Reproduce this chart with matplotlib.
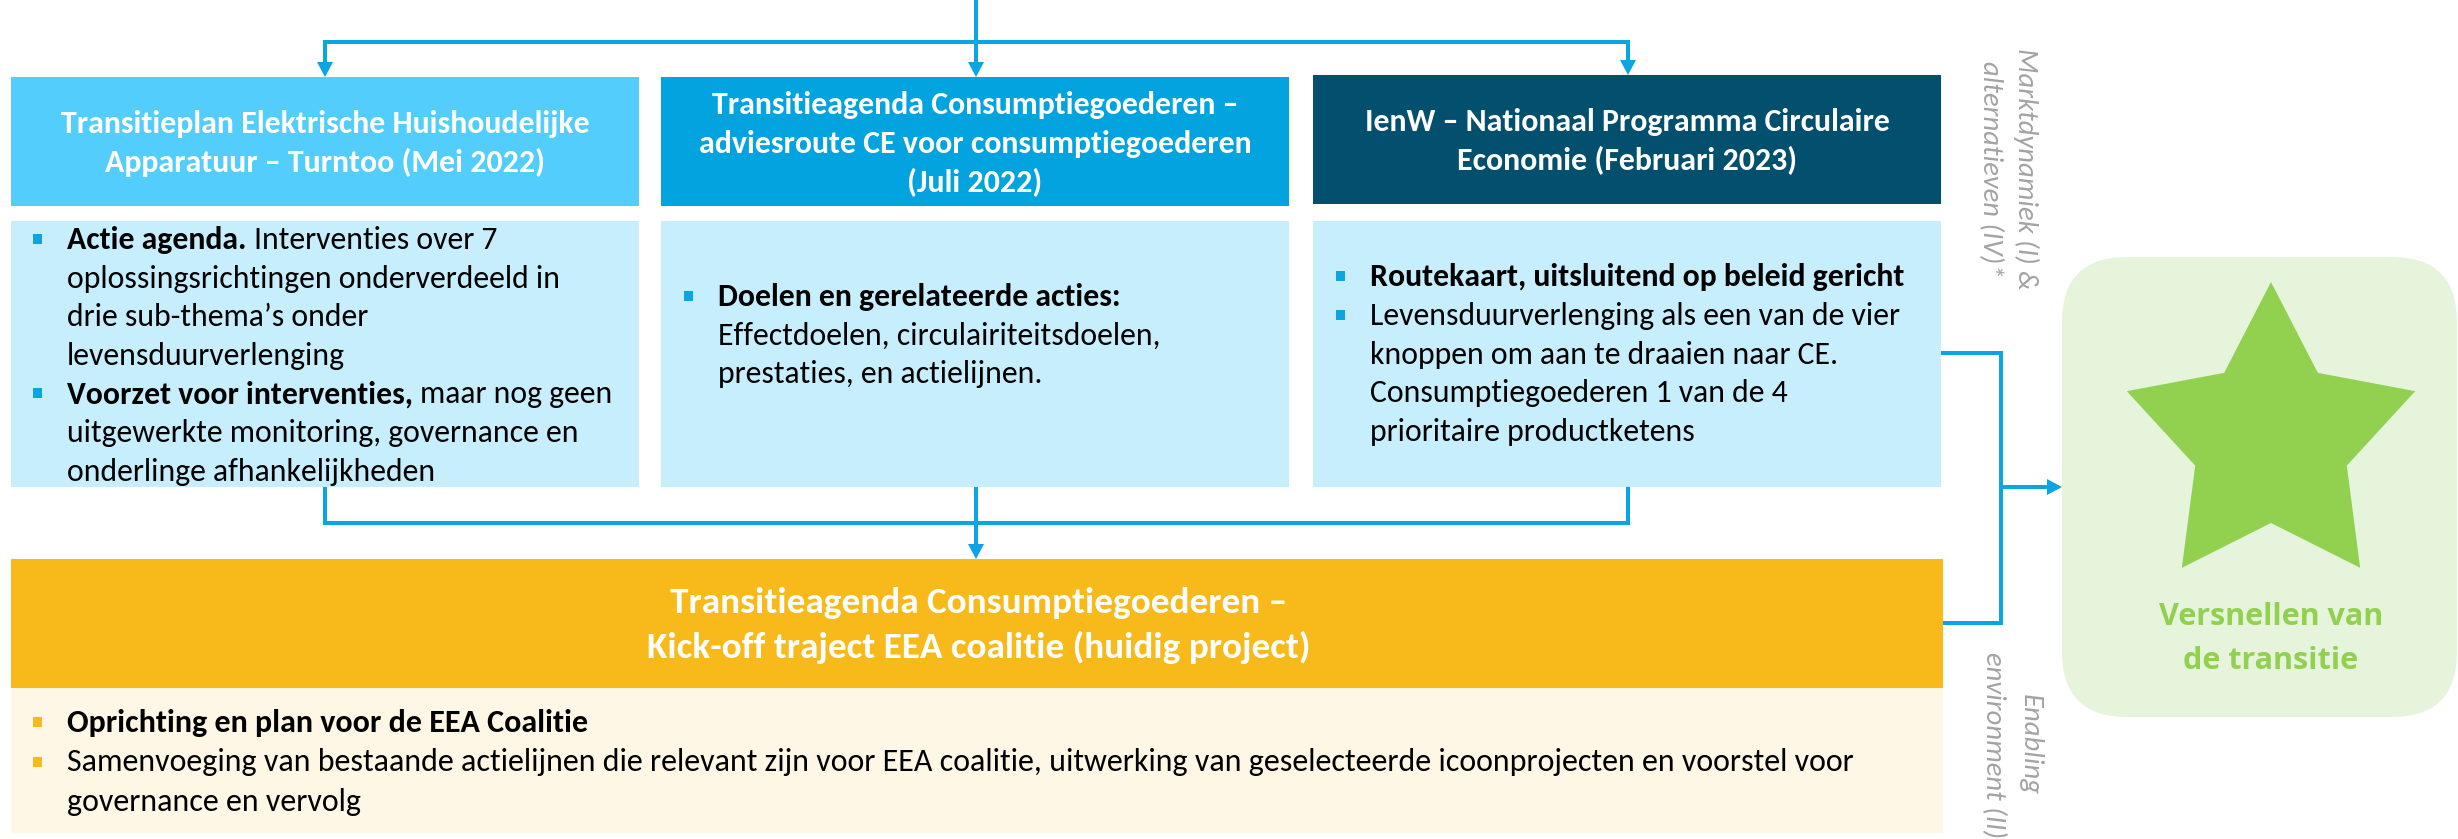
import matplotlib
matplotlib.use("Agg")
import matplotlib.pyplot as plt
from matplotlib import font_manager
from matplotlib.patches import Rectangle, FancyBboxPatch, Polygon
import numpy as np

# ---------------- content ----------------
header_titles = [
    "Transitieplan Elektrische Huishoudelijke\nApparatuur – Turntoo (Mei 2022)",
    "Transitieagenda Consumptiegoederen –\nadviesroute CE voor consumptiegoederen\n(Juli 2022)",
    "IenW – Nationaal Programma Circulaire\nEconomie (Februari 2023)",
]
header_colors = ["#53CDFB", "#02A3DF", "#02506E"]

# (bullet?, bold part, regular part)
box1_lines = [
    (True, "Actie agenda.", "Interventies over 7"),
    (False, "", "oplossingsrichtingen onderverdeeld in"),
    (False, "", "drie sub-thema’s onder"),
    (False, "", "levensduurverlenging"),
    (True, "Voorzet voor interventies,", "maar nog geen"),
    (False, "", "uitgewerkte monitoring, governance en"),
    (False, "", "onderlinge afhankelijkheden"),
]
box2_lines = [
    (True, "Doelen en gerelateerde acties:", ""),
    (False, "", "Effectdoelen, circulairiteitsdoelen,"),
    (False, "", "prestaties, en actielijnen."),
]
box3_lines = [
    (True, "Routekaart, uitsluitend op beleid gericht", ""),
    (True, "", "Levensduurverlenging als een van de vier"),
    (False, "", "knoppen om aan te draaien naar CE."),
    (False, "", "Consumptiegoederen 1 van de 4"),
    (False, "", "prioritaire productketens"),
]
project_title = "Transitieagenda Consumptiegoederen –\nKick-off traject EEA coalitie (huidig project)"
project_lines = [
    (True, "Oprichting en plan voor de EEA Coalitie", ""),
    (True, "", "Samenvoeging van bestaande actielijnen die relevant zijn voor EEA coalitie, "
               "uitwerking van geselecteerde icoonprojecten en voorstel voor"),
    (False, "", "governance en vervolg"),
]
side_label_top = ["Marktdynamiek (I) &", "alternatieven (IV)*"]
side_label_bottom = ["Enabling", "environment (II)"]
goal_label = ["Versnellen van", "de transitie"]

# ---------------- styling ----------------
W, H, DPI = 2458, 839, 100
BODY_BG = "#C6EEFD"
LINE_C = "#0AA5E2"
ORANGE = "#F8BA1B"
CREAM = "#FFF7E5"
GREEN_BG = "#E6F4DC"
GREEN = "#92D050"
GREY = "#A3A3A3"

_installed = {f.name for f in font_manager.fontManager.ttflist}
FONT = next((f for f in ["Carlito", "Calibri", "Lato"] if f in _installed), "DejaVu Sans")
GOAL_FONT = next((f for f in ["Open Sans", "DejaVu Sans"] if f in _installed), "DejaVu Sans")

fig = plt.figure(figsize=(W / DPI, H / DPI), dpi=DPI)
ax = fig.add_axes([0, 0, 1, 1])
ax.set_xlim(0, W)
ax.set_ylim(H, 0)
ax.axis("off")
renderer = fig.canvas.get_renderer()


def text_width(s, size, **kw):
    t = ax.text(0, 0, s, fontsize=size, **kw)
    w = t.get_window_extent(renderer).width
    t.remove()
    return w


def fit_size(s, target, **kw):
    return 20 * target / text_width(s, 20, **kw)


body_size = fit_size("Levensduurverlenging als een van de vier", 531, family=FONT)
head_size = fit_size("Transitieplan Elektrische Huishoudelijke", 531, family=FONT, fontweight="bold")
proj_head_size = fit_size("Transitieagenda Consumptiegoederen –", 617, family=FONT, fontweight="bold")
proj_body_size = fit_size(project_lines[1][2], 1790, family=FONT)
side_size = fit_size("Marktdynamiek (I) &", 241, family=FONT, fontstyle="italic", fontweight="light")
goal_size = fit_size("Versnellen van", 225, family=GOAL_FONT, fontweight="bold")

# ---------------- column boxes ----------------
col_left = [11, 661, 1313]
col_right = [639, 1289, 1941]
head_top = [77, 77, 75]
head_bot = [206, 206, 204]
body_top, body_bot = 221, 487
head_first_base = [133, 114, 131]
head_dy = 39

for i in range(3):
    ax.add_patch(Rectangle((col_left[i], head_top[i]), col_right[i] - col_left[i],
                           head_bot[i] - head_top[i], color=header_colors[i], lw=0))
    ax.add_patch(Rectangle((col_left[i], body_top), col_right[i] - col_left[i],
                           body_bot - body_top, color=BODY_BG, lw=0))
    cx = (col_left[i] + col_right[i]) / 2
    for j, line in enumerate(header_titles[i].split("\n")):
        ax.text(cx, head_first_base[i] + j * head_dy, line, color="white", family=FONT,
                fontweight="bold", fontsize=head_size, ha="center", va="baseline")


def draw_lines(lines, x0, y0, dy, size, bullet_color):
    sp = text_width("a a", size, family=FONT) - text_width("aa", size, family=FONT)
    for k, (bul, bold, reg) in enumerate(lines):
        y = y0 + k * dy
        if bul:
            ax.add_patch(Rectangle((x0 - 34, y - 15), 9, 10, color=bullet_color, lw=0))
        x = x0
        if bold:
            t = ax.text(x, y, bold, family=FONT, fontweight="bold", fontsize=size,
                        ha="left", va="baseline", color="black")
            x += t.get_window_extent(renderer).width + sp
        if reg:
            ax.text(x, y, reg, family=FONT, fontsize=size, ha="left", va="baseline",
                    color="black")


draw_lines(box1_lines, 67, 249, 38.6, body_size, LINE_C)
draw_lines(box2_lines, 718, 306, 38.6, body_size, LINE_C)
draw_lines(box3_lines, 1370, 286, 38.8, body_size, LINE_C)

# ---------------- project box ----------------
p_left, p_right = 11, 1943
ax.add_patch(Rectangle((p_left, 559), p_right - p_left, 688 - 559, color=ORANGE, lw=0))
ax.add_patch(Rectangle((p_left, 688), p_right - p_left, 833 - 688, color=CREAM, lw=0))
pcx = (p_left + p_right) / 2 + 2
for j, line in enumerate(project_title.split("\n")):
    ax.text(pcx, 613 + j * 45, line, color="white", family=FONT, fontweight="bold",
            fontsize=proj_head_size, ha="center", va="baseline")
draw_lines(project_lines, 67, 732, 39.5, proj_body_size, ORANGE)

# ---------------- connectors ----------------
LW = 4 * 72 / DPI


def seg(xs, ys):
    ax.plot(xs, ys, color=LINE_C, lw=LW, solid_capstyle="projecting",
            solid_joinstyle="miter")


def head_down(x, y_tip):
    ax.add_patch(Polygon([[x - 8, y_tip - 15], [x + 8, y_tip - 15], [x, y_tip]],
                         closed=True, color=LINE_C, lw=0))


def head_right(x_tip, y):
    ax.add_patch(Polygon([[x_tip - 15, y - 8], [x_tip - 15, y + 8], [x_tip, y]],
                         closed=True, color=LINE_C, lw=0))


centers = [325, 976, 1628]
# top distribution
seg([976, 976], [0, 42])
seg([centers[0], centers[2]], [42, 42])
for i, cx in enumerate(centers):
    ax.plot([cx, cx], [42, head_top[i] - 12], color=LINE_C, lw=LW, solid_capstyle="butt")
    head_down(cx, head_top[i])
# bottom merge
for cx in centers:
    ax.plot([cx, cx], [body_bot, 523], color=LINE_C, lw=LW, solid_capstyle="butt")
seg([centers[0], centers[2]], [523, 523])
ax.plot([976, 976], [523, 547], color=LINE_C, lw=LW, solid_capstyle="butt")
head_down(976, 559)
# right merge
ax.plot([1941, 2001, 2001, 1943], [353, 353, 623, 623], color=LINE_C, lw=LW,
        solid_joinstyle="miter", solid_capstyle="butt")
ax.plot([2001, 2050], [487, 487], color=LINE_C, lw=LW, solid_capstyle="butt")
head_right(2062, 487)

# ---------------- side labels ----------------
for line, x in zip(side_label_top, [2026, 1991]):
    ax.text(x, 169, line, rotation=-90, family=FONT, fontstyle="italic", fontweight="light",
            color=GREY, fontsize=side_size, ha="center", va="center")
for line, x in zip(side_label_bottom, [2030, 1994]):
    ax.text(x, 745, line, rotation=-90, family=FONT, fontstyle="italic", fontweight="light",
            color=GREY, fontsize=side_size, ha="center", va="center")

# ---------------- goal box ----------------
ax.add_patch(FancyBboxPatch((2062, 257), 2457 - 2062, 717 - 257,
                            boxstyle="round,pad=0,rounding_size=65",
                            color=GREEN_BG, lw=0))
scx, scy, R, r, sx = 2271, 440, 158, 83, 0.96
ang = np.deg2rad(90 + 36 * np.arange(10))
rad = np.where(np.arange(10) % 2 == 0, R, r)
star = np.column_stack([scx + sx * rad * np.cos(ang), scy - rad * np.sin(ang)])
ax.add_patch(Polygon(star, closed=True, color=GREEN, lw=0))
for line, y in zip(goal_label, [617, 661]):
    ax.text(2271, y, line, family=GOAL_FONT, fontweight="bold", color=GREEN,
            fontsize=goal_size, ha="center", va="center")

fig.savefig("out.png", dpi=DPI)
